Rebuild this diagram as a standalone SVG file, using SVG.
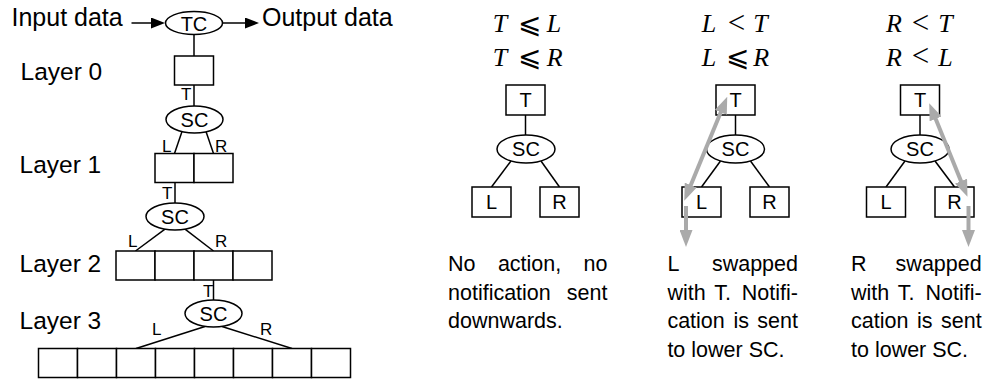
<svg xmlns="http://www.w3.org/2000/svg" width="986" height="385" viewBox="0 0 986 385">
<defs>
<style>
.bx{fill:#fff;stroke:#000;stroke-width:1.5}
.el{fill:#fff;stroke:#000;stroke-width:1.5}
.ln{fill:none;stroke:#000;stroke-width:1.5}
.ga{fill:none;stroke:#aaaaaa;stroke-width:4}
text{font-family:"Liberation Sans",Arial,Helvetica,sans-serif;fill:#000}
.big{font-size:25px}
.lay{font-size:24.5px}
.sm{font-size:17px}
.nd{font-size:20px;text-anchor:middle}
.cap{font-size:21.5px}
.ms{font-family:"Liberation Serif","Times New Roman",serif;font-style:italic;font-size:26px}
.rel{font-family:"DejaVu Serif","Liberation Serif",serif;font-style:normal;font-size:28px;text-anchor:middle}
.lt{font-family:"Liberation Serif","Times New Roman",serif;font-style:normal;font-size:31px;text-anchor:middle}
.end{text-anchor:end}
</style>
<marker id="ah" markerUnits="userSpaceOnUse" markerWidth="14" markerHeight="11" viewBox="0 0 14 11" refX="1" refY="5.5" orient="auto"><path d="M0,0 L14,5.5 L0,11 z" fill="#000"/></marker>
<marker id="gh" markerUnits="userSpaceOnUse" markerWidth="17" markerHeight="13" viewBox="0 0 17 13" refX="3" refY="6.5" orient="auto-start-reverse"><path d="M0,0 L17,6.5 L0,13 z" fill="#aaaaaa"/></marker>
</defs>

<g id="io-labels">
<text class="big" x="11.5" y="26">Input data</text>
<text class="big" x="262" y="26">Output data</text>
</g>
<g id="layer-labels">
<text class="lay" x="20.5" y="80">Layer 0</text>
<text class="lay" x="19.5" y="173">Layer 1</text>
<text class="lay" x="19.5" y="271.5">Layer 2</text>
<text class="lay" x="19.5" y="329">Layer 3</text>
</g>

<g id="connectors">
<line class="ln" x1="131.5" y1="23" x2="152" y2="23" marker-end="url(#ah)"/>
<line class="ln" x1="222.5" y1="23" x2="246" y2="23" marker-end="url(#ah)"/>
<line class="ln" x1="194" y1="34.5" x2="194" y2="56"/>
<line class="ln" x1="194" y1="85" x2="194" y2="106"/>
<line class="ln" x1="182" y1="131.6" x2="174.5" y2="153.5"/>
<line class="ln" x1="206" y1="131.6" x2="213.5" y2="153.5"/>
<line class="ln" x1="175" y1="182.5" x2="175" y2="203"/>
<line class="ln" x1="165" y1="229.2" x2="135.5" y2="251"/>
<line class="ln" x1="185" y1="229.2" x2="213.5" y2="251"/>
<line class="ln" x1="213.5" y1="280" x2="213.5" y2="300"/>
<line class="ln" x1="205" y1="326.5" x2="136" y2="348.5"/>
<line class="ln" x1="222" y1="326.5" x2="292" y2="348.5"/>
<line class="ln" x1="525.5" y1="115" x2="525.5" y2="135"/>
<line class="ln" x1="511" y1="161" x2="491.5" y2="187"/>
<line class="ln" x1="541" y1="161" x2="559.5" y2="187"/>
<line class="ln" x1="735.5" y1="115" x2="735.5" y2="135"/>
<line class="ln" x1="720.5" y1="161" x2="701.5" y2="187"/>
<line class="ln" x1="750.5" y1="161" x2="769.5" y2="187"/>
<line class="ln" x1="920" y1="115" x2="920" y2="135"/>
<line class="ln" x1="905" y1="161" x2="886" y2="187"/>
<line class="ln" x1="935" y1="161" x2="954.5" y2="187"/>
</g>
<g id="edge-labels">
<text class="sm" x="181" y="100">T</text>
<text class="sm" x="162" y="152">L</text>
<text class="sm" x="215" y="152">R</text>
<text class="sm" x="162" y="199">T</text>
<text class="sm" x="128" y="247">L</text>
<text class="sm" x="215" y="247">R</text>
<text class="sm" x="203" y="296.5">T</text>
<text class="sm" x="152" y="335">L</text>
<text class="sm" x="260" y="335">R</text>
</g>

<g id="tc"><ellipse class="el" cx="194" cy="23" rx="28.5" ry="11.5"/><text class="nd" x="194" y="30.5">TC</text></g>
<g id="layer0"><rect class="bx" x="174.5" y="56" width="39" height="29"/></g>
<g id="sc0"><ellipse class="el" cx="194.5" cy="119.5" rx="28.5" ry="13.5"/><text class="nd" x="194.5" y="126.5">SC</text></g>
<g id="layer1"><rect class="bx" x="155" y="153.5" width="39" height="29"/><rect class="bx" x="194" y="153.5" width="39" height="29"/></g>
<g id="sc1"><ellipse class="el" cx="175" cy="216.5" rx="29" ry="13.5"/><text class="nd" x="175" y="223.5">SC</text></g>
<g id="layer2"><rect class="bx" x="116" y="251" width="39" height="29"/><rect class="bx" x="155" y="251" width="39" height="29"/><rect class="bx" x="194" y="251" width="39" height="29"/><rect class="bx" x="233" y="251" width="39" height="29"/></g>
<g id="sc2"><ellipse class="el" cx="213.5" cy="313.5" rx="28.5" ry="13.5"/><text class="nd" x="213.5" y="320.5">SC</text></g>
<g id="layer3"><rect class="bx" x="38.5" y="348.5" width="39" height="29"/><rect class="bx" x="77.5" y="348.5" width="39" height="29"/><rect class="bx" x="116.5" y="348.5" width="39" height="29"/><rect class="bx" x="155.5" y="348.5" width="39" height="29"/><rect class="bx" x="194.5" y="348.5" width="39" height="29"/><rect class="bx" x="233.5" y="348.5" width="39" height="29"/><rect class="bx" x="272.5" y="348.5" width="39" height="29"/><rect class="bx" x="311.5" y="348.5" width="39" height="29"/></g>

<g id="case1">
<text class="ms" x="492.7" y="32.3">T</text><text class="rel" x="529" y="33">⩽</text><text class="ms" x="546.7" y="32.3">L</text>
<text class="ms" x="492.7" y="65.7">T</text><text class="rel" x="529" y="66.4">⩽</text><text class="ms" x="546.7" y="65.7">R</text>
<g id="c1-t"><rect class="bx" x="506" y="85" width="39" height="30"/><text class="nd" x="525.5" y="107">T</text></g>
<g id="c1-sc"><ellipse class="el" cx="526" cy="149" rx="29" ry="14"/><text class="nd" x="526" y="156">SC</text></g>
<g id="c1-l"><rect class="bx" x="472" y="187" width="39" height="30"/><text class="nd" x="491.5" y="209">L</text></g>
<g id="c1-r"><rect class="bx" x="540" y="187" width="39" height="30"/><text class="nd" x="559.5" y="209">R</text></g>
<text class="cap" x="448" y="271">No</text><text class="cap" x="497.9" y="271">action,</text><text class="cap end" x="607.5" y="271">no</text>
<text class="cap" x="448" y="299.5">notification</text><text class="cap end" x="607.5" y="299.5">sent</text>
<text class="cap" x="448" y="328">downwards.</text>
</g>

<g id="case2">
<text class="ms" x="701.7" y="32.3">L</text><text class="lt" x="736.5" y="33">&lt;</text><text class="ms" x="753.3" y="32.3">T</text>
<text class="ms" x="701.7" y="65.7">L</text><text class="rel" x="737.5" y="66.4">⩽</text><text class="ms" x="753.3" y="65.7">R</text>
<g id="c2-t"><rect class="bx" x="716" y="85" width="39" height="30"/><text class="nd" x="735.5" y="107">T</text></g>
<g id="c2-sc"><ellipse class="el" cx="735.5" cy="149" rx="29" ry="14"/><text class="nd" x="735.5" y="156">SC</text></g>
<g id="c2-l"><rect class="bx" x="682" y="187" width="39" height="30"/><text class="nd" x="701.5" y="209">L</text></g>
<g id="c2-r"><rect class="bx" x="750" y="187" width="39" height="30"/><text class="nd" x="769.5" y="209">R</text></g>
<text class="cap" x="667.4" y="271">L</text><text class="cap end" x="798" y="271">swapped</text>
<text class="cap" x="667.4" y="299.5">with</text><text class="cap" x="714.2" y="299.5">T.</text><text class="cap end" x="798" y="299.5">Notifi-</text>
<text class="cap" x="667.4" y="328">cation</text><text class="cap" x="733.4" y="328">is</text><text class="cap end" x="798" y="328">sent</text>
<text class="cap" x="667.4" y="356.5">to lower SC.</text>
</g>

<g id="case3">
<text class="ms" x="886" y="32.3">R</text><text class="lt" x="920.5" y="33">&lt;</text><text class="ms" x="938.3" y="32.3">T</text>
<text class="ms" x="886" y="65.7">R</text><text class="lt" x="920.5" y="66.4">&lt;</text><text class="ms" x="938.3" y="65.7">L</text>
<g id="c3-t"><rect class="bx" x="900.5" y="85" width="39" height="30"/><text class="nd" x="920" y="107">T</text></g>
<g id="c3-sc"><ellipse class="el" cx="920" cy="149" rx="29" ry="14"/><text class="nd" x="920" y="156">SC</text></g>
<g id="c3-l"><rect class="bx" x="866.5" y="187" width="39" height="30"/><text class="nd" x="886" y="209">L</text></g>
<g id="c3-r"><rect class="bx" x="935" y="187" width="39" height="30"/><text class="nd" x="954.5" y="209">R</text></g>
<text class="cap" x="851" y="271">R</text><text class="cap end" x="981.7" y="271">swapped</text>
<text class="cap" x="851" y="299.5">with</text><text class="cap" x="897.8" y="299.5">T.</text><text class="cap end" x="981.7" y="299.5">Notifi-</text>
<text class="cap" x="851" y="328">cation</text><text class="cap" x="917" y="328">is</text><text class="cap end" x="981.7" y="328">sent</text>
<text class="cap" x="851" y="356.5">to lower SC.</text>
</g>

<g id="swap-arrows">
<line class="ga" x1="689.6" y1="187.9" x2="721.9" y2="109.6" marker-start="url(#gh)" marker-end="url(#gh)"/>
<line class="ga" x1="686" y1="206" x2="686" y2="233" marker-end="url(#gh)"/>
<line class="ga" x1="962.2" y1="183.9" x2="934.5" y2="116.1" marker-start="url(#gh)" marker-end="url(#gh)"/>
<line class="ga" x1="968.5" y1="206" x2="968.5" y2="233" marker-end="url(#gh)"/>
</g>
</svg>
